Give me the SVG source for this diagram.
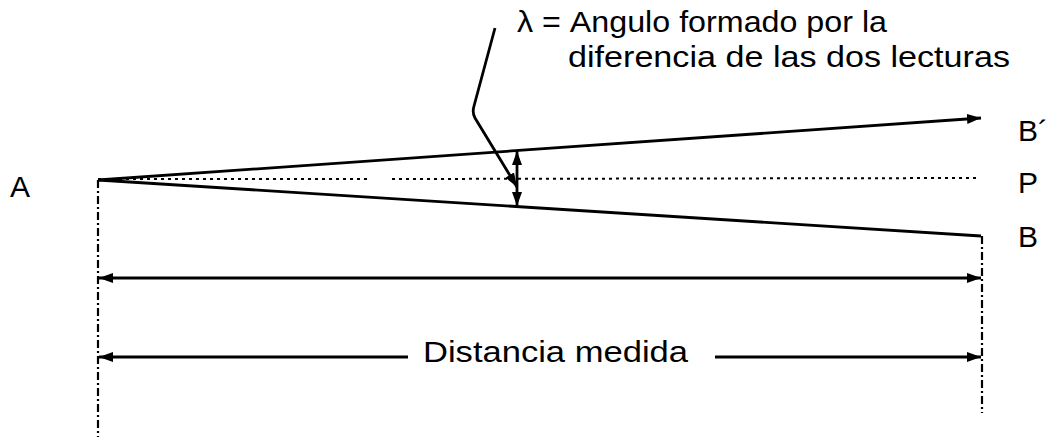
<svg xmlns="http://www.w3.org/2000/svg" width="1051" height="437" viewBox="0 0 1051 437">
<style>
.t{font-family:"Liberation Sans",Arial,sans-serif;font-size:29px;fill:#000}
.lb{font-family:"Liberation Sans",Arial,sans-serif;font-size:30px;fill:#000}
.ln{stroke:#000;stroke-width:2.8;fill:none}
.dd{stroke:#000;stroke-width:2.2;fill:none;stroke-dasharray:8 3 2 3}
.dot{stroke:#000;stroke-width:2;fill:none;stroke-dasharray:3 4}
</style>
<defs>
<marker id="ah" viewBox="0 0 14 10" refX="14" refY="5" markerWidth="14" markerHeight="10" markerUnits="userSpaceOnUse" orient="auto-start-reverse">
<path d="M0,0 L14,5 L0,10 Z" fill="#000"/>
</marker>
</defs>
<rect width="1051" height="437" fill="#fff"/>
<g id="labels">
<text class="lb" x="10" y="197">A</text>
<text class="lb" x="1018" y="141">B´</text>
<text class="lb" x="1018" y="193">P</text>
<text class="lb" x="1018" y="247">B</text>
</g>
<g id="note">
<text class="t" x="517" y="32" textLength="370" lengthAdjust="spacingAndGlyphs">λ = Angulo formado por la</text>
<text class="t" x="568" y="67" textLength="442" lengthAdjust="spacingAndGlyphs">diferencia de las dos lecturas</text>
</g>
<g id="dist-label">
<text class="t" x="423" y="362" textLength="265" lengthAdjust="spacingAndGlyphs">Distancia medida</text>
</g>
<g id="connectors">
<line class="dot" x1="98" y1="179" x2="371" y2="179"/>
<line class="dot" x1="392" y1="179" x2="980" y2="178"/>
<line class="ln" x1="98" y1="180" x2="981" y2="118" marker-end="url(#ah)"/>
<line class="ln" x1="98" y1="180" x2="981" y2="236"/>
<line class="dd" x1="98" y1="180" x2="98" y2="437"/>
<line class="dd" x1="982" y1="236" x2="982" y2="413"/>
<line class="ln" x1="517" y1="151" x2="517" y2="206" stroke-width="2.2" marker-start="url(#ah)" marker-end="url(#ah)"/>
<path class="ln" d="M495,28 L474,106 Q472,113 475,118 L517,187" stroke-width="2.2" marker-end="url(#ah)"/>
<line class="ln" x1="99" y1="278" x2="981" y2="278" marker-start="url(#ah)" marker-end="url(#ah)"/>
<line class="ln" x1="99" y1="357" x2="408" y2="357" marker-start="url(#ah)"/>
<line class="ln" x1="715" y1="357" x2="981" y2="357" marker-end="url(#ah)"/>
</g>
</svg>
